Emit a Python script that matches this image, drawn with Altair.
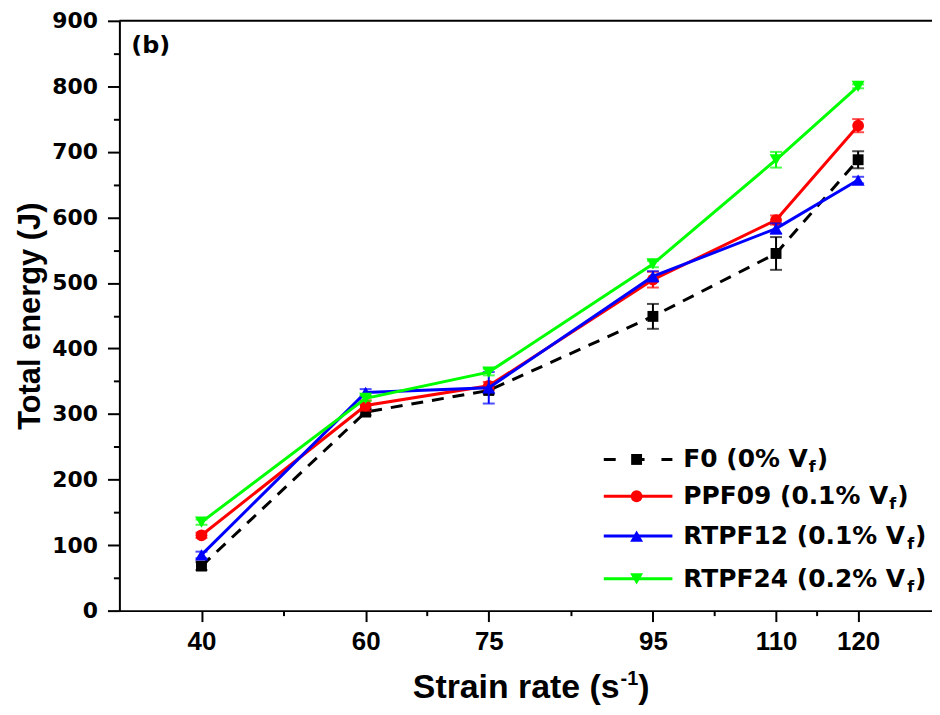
import altair as alt
import pandas as pd

# ---------------- data ----------------
strain_rate = [40, 60, 75, 95, 110, 120]

f0 = [68, 303, 336, 449, 545, 688]
f0_err = [6, 5, 5, 19, 25, 13]
ppf09 = [115, 313, 343, 505, 596, 740]
ppf09_err = [4, 8, 6, 12, 7, 10]
rtpf12 = [85, 333, 340, 510, 583, 657]
rtpf12_err = [5, 5, 24, 8, 8, 5]
rtpf24 = [135, 324, 364, 529, 688, 800]
rtpf24_err = [4, 4, 5, 5, 12, 3]

legend_main = ["F0 (0% V", "PPF09 (0.1% V", "RTPF12 (0.1% V", "RTPF24 (0.2% V"]
x_major = [40, 60, 75, 95, 110, 120]
x_minor = [50, 67.5, 85, 102.5, 115]
y_ticks = list(range(0, 901, 50))

# ---------------- style ----------------
W, H = 817, 593
colors = ["#000000", "#ff0000", "#0000ff", "#00ff00"]
shapes = ["square", "circle", "triangle-up", "triangle-down"]
sizes = [120, 140, 170, 170]
dashes = [[12, 9], None, None, None]
series = [(f0, f0_err), (ppf09, ppf09_err), (rtpf12, rtpf12_err), (rtpf24, rtpf24_err)]

major_test = "indexof([40,60,75,95,110,120], datum.value) >= 0"
xs = alt.Scale(domain=[30, 129], nice=False, zero=False)
ys = alt.Scale(domain=[0, 900], nice=False, zero=True)
xaxis = alt.Axis(
    values=sorted(x_major + x_minor), title=None, grid=False,
    labelExpr=f"{major_test} ? datum.label : ''",
    tickSize={"condition": {"test": major_test, "value": 11}, "value": 5},
    tickColor="black", tickWidth=2, domainColor="black", domainWidth=2,
    labelFont="Liberation Sans", labelFontWeight="bold", labelFontSize=26,
    labelColor="black", labelPadding=7, labelFlush=False, labelOverlap=False,
)
yaxis = alt.Axis(
    values=y_ticks, title="Total energy (J)", grid=False,
    labelExpr="datum.value % 100 == 0 ? datum.label : ''",
    tickSize={"condition": {"test": "datum.value % 100 == 0", "value": 12}, "value": 6},
    tickColor="black", tickWidth=2, domainColor="black", domainWidth=2,
    labelFont="DejaVu Sans", labelFontWeight="bold", labelFontSize=22,
    labelColor="black", labelPadding=10, labelFlush=False, labelOverlap=False,
    titleFont="Liberation Sans", titleFontWeight="bold", titleFontSize=31,
    titleColor="black", titlePadding=5,
)

layers = []
one = alt.Data(values=[{}])

for i, (vals, errs) in enumerate(series):
    df = pd.DataFrame({"x": strain_rate, "y": vals, "err": errs})
    base = alt.Chart(df).transform_calculate(
        lo="datum.y - datum.err", hi="datum.y + datum.err"
    )
    X = alt.X("x:Q", scale=xs, axis=xaxis)
    bars = base.mark_rule(color=colors[i], strokeWidth=2).encode(
        x=X, y=alt.Y("lo:Q", scale=ys, axis=yaxis), y2="hi:Q"
    )
    cap_lo = base.mark_tick(color=colors[i], orient="horizontal", size=12, thickness=2).encode(
        x=X, y=alt.Y("lo:Q", scale=ys, axis=yaxis)
    )
    cap_hi = base.mark_tick(color=colors[i], orient="horizontal", size=12, thickness=2).encode(
        x=X, y=alt.Y("hi:Q", scale=ys, axis=yaxis)
    )
    line_kw = dict(color=colors[i], strokeWidth=3)
    if dashes[i]:
        line_kw["strokeDash"] = dashes[i]
    line = base.mark_line(**line_kw).encode(x=X, y=alt.Y("y:Q", scale=ys, axis=yaxis))
    pts = base.mark_point(
        shape=shapes[i], filled=True, color=colors[i], size=sizes[i], opacity=1
    ).encode(x=X, y=alt.Y("y:Q", scale=ys, axis=yaxis))
    layers += [bars, cap_lo, cap_hi, line, pts]

# top frame line
layers.append(
    alt.Chart(one).mark_rule(color="black", strokeWidth=2).encode(
        x=alt.value(0), x2=alt.value(W), y=alt.value(0)
    )
)

# panel label
layers.append(
    alt.Chart(one).mark_text(
        text="(b)", font="DejaVu Sans", fontWeight="bold", fontSize=24,
        align="left", baseline="middle", color="black"
    ).encode(x=alt.value(12), y=alt.value(25))
)

# ---------------- custom legend ----------------
dv = {' ': 348, '(': 457, ')': 457, '%': 1002, '.': 380, 'F': 683, 'P': 733,
      'R': 770, 'T': 682, 'V': 774}
def dv_width(s, fs):
    return sum(dv.get(c, 696) for c in s) * fs / 1000.0

row_y = [441, 478, 518, 561]
lx0, lx1, lmark, ltext = 487, 556, 520, 567
FS = 25
for i, lab in enumerate(legend_main):
    yv = row_y[i]
    rk = dict(color=colors[i], strokeWidth=3)
    if dashes[i]:
        rk["strokeDash"] = [12, 17]
    layers.append(
        alt.Chart(one).mark_rule(**rk).encode(
            x=alt.value(lx0), x2=alt.value(lx1), y=alt.value(yv)
        )
    )
    layers.append(
        alt.Chart(one).mark_point(
            shape=shapes[i], filled=True, color=colors[i], size=sizes[i], opacity=1
        ).encode(x=alt.value(lmark), y=alt.value(yv))
    )
    layers.append(
        alt.Chart(one).mark_text(
            text=lab, font="DejaVu Sans", fontWeight="bold", fontSize=FS,
            align="left", baseline="middle", color="black"
        ).encode(x=alt.value(ltext), y=alt.value(yv))
    )
    wmain = dv_width(lab, FS)
    xf = ltext + wmain + 1
    layers.append(
        alt.Chart(one).mark_text(
            text="f", font="DejaVu Sans", fontWeight="bold", fontSize=16,
            align="left", baseline="middle", color="black"
        ).encode(x=alt.value(xf), y=alt.value(yv + 8))
    )
    layers.append(
        alt.Chart(one).mark_text(
            text=")", font="DejaVu Sans", fontWeight="bold", fontSize=FS,
            align="left", baseline="middle", color="black"
        ).encode(x=alt.value(xf + 8), y=alt.value(yv))
    )

# ---------------- custom x-axis title ----------------
ar = {'S': 667, 't': 333, 'r': 389, 'a': 556, 'i': 278, 'n': 611, ' ': 278,
      'e': 556, '(': 333, 's': 556, ')': 333, '-': 333, '1': 556}
def ar_width(s, fs):
    return sum(ar.get(c, 556) for c in s) * fs / 1000.0

TF, SF = 34, 20
part1, sup, part2 = "Strain rate (s", "-1", ")"
total = ar_width(part1, TF) + ar_width(sup, SF) + 1 + ar_width(part2, TF)
tx0 = 414 - total / 2
tby = 681
layers.append(
    alt.Chart(one).mark_text(
        text=part1, font="Liberation Sans", fontWeight="bold", fontSize=TF,
        align="left", baseline="alphabetic", color="black"
    ).encode(x=alt.value(tx0), y=alt.value(tby))
)
sx = tx0 + ar_width(part1, TF) + 1
layers.append(
    alt.Chart(one).mark_text(
        text=sup, font="Liberation Sans", fontWeight="bold", fontSize=SF,
        align="left", baseline="alphabetic", color="black"
    ).encode(x=alt.value(sx), y=alt.value(tby - 13))
)
layers.append(
    alt.Chart(one).mark_text(
        text=part2, font="Liberation Sans", fontWeight="bold", fontSize=TF,
        align="left", baseline="alphabetic", color="black"
    ).encode(x=alt.value(sx + ar_width(sup, SF)), y=alt.value(tby))
)

chart = alt.layer(*layers).properties(
    width=W, height=H,
    autosize=alt.AutoSizeParams(type="none"),
    padding={"left": 112, "top": 11, "right": 0, "bottom": 95},
    background="white",
).configure_view(stroke=None)

chart.save("out.html", embed_options={"renderer": "svg", "actions": False})
